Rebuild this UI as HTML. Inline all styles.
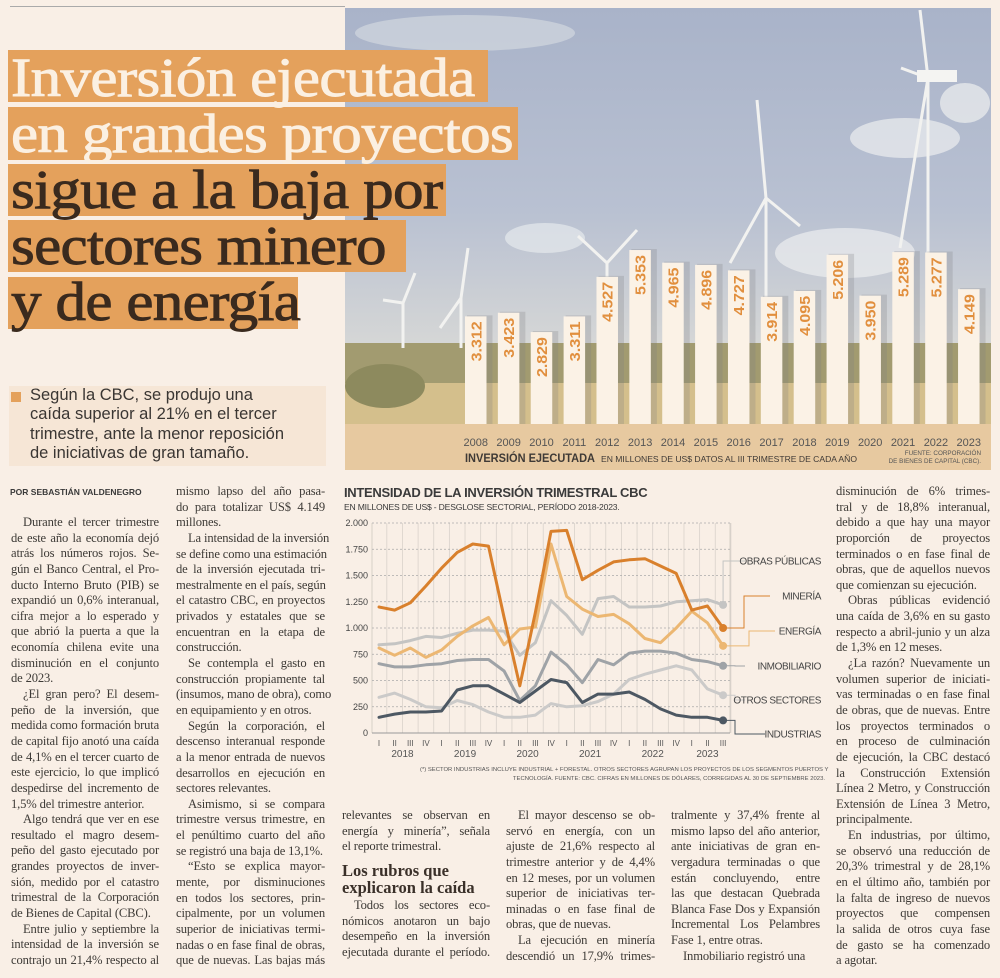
<!DOCTYPE html>
<html><head><meta charset="utf-8">
<style>
html,body{margin:0;padding:0}
body{width:1000px;height:978px;background:#f9efe6;position:relative;overflow:hidden;font-family:"Liberation Serif",serif;color:#3b3530}
.abs{position:absolute}
.t{position:absolute;white-space:nowrap;font-family:"Liberation Serif",serif}
.hbox{position:absolute;background:#e4a15c}
.htxt{position:absolute;font-family:"Liberation Serif",serif;font-size:55px;line-height:56px;white-space:nowrap;letter-spacing:-0.6px;-webkit-text-stroke:0.9px currentColor;transform:scaleX(1.11);transform-origin:0 0}
.col{position:absolute;font-size:12.6px;line-height:15.65px;color:#3d3a36;letter-spacing:-0.15px}
.col div{text-align:justify;text-align-last:justify;white-space:nowrap;height:15.65px;overflow:visible}
.col div.e{text-align-last:left}
.col div.i{text-indent:12px}
.sans{font-family:"Liberation Sans",sans-serif}
</style></head>
<body>

<div class="abs" style="left:10px;top:6px;width:335px;height:1px;background:#aaa"></div>

<svg class="abs" style="left:345px;top:8px" width="646" height="462">
  <defs>
    <linearGradient id="sky" x1="0" y1="0" x2="0" y2="1">
      <stop offset="0" stop-color="#a9b3c9"/><stop offset="0.6" stop-color="#b9c1d2"/><stop offset="1" stop-color="#d6d7d6"/>
    </linearGradient>
  </defs>
  <rect width="646" height="340" fill="url(#sky)"/>
  <ellipse cx="120" cy="25" rx="110" ry="18" fill="#d8dde3" opacity="0.6"/>
  <ellipse cx="560" cy="130" rx="55" ry="20" fill="#eceeef" opacity="0.7"/>
  <ellipse cx="500" cy="245" rx="70" ry="25" fill="#eceeef" opacity="0.7"/>
  <ellipse cx="200" cy="230" rx="40" ry="15" fill="#e6e9ec" opacity="0.7"/>
  <ellipse cx="620" cy="95" rx="25" ry="20" fill="#eef0f0" opacity="0.7"/>
  <rect y="335" width="646" height="45" fill="#a29b70"/>
  <rect y="375" width="646" height="41" fill="#d4bf8c"/>
  <ellipse cx="40" cy="378" rx="40" ry="22" fill="#8d8a5e"/>
  <g stroke="#f2f2f0" stroke-width="3" fill="none">
    <line x1="583" y1="70" x2="583" y2="340"/><line x1="583" y1="70" x2="575" y2="2"/><line x1="583" y1="70" x2="555" y2="240"/><line x1="583" y1="70" x2="556" y2="60"/>
    <line x1="421" y1="190" x2="421" y2="340"/><line x1="421" y1="190" x2="412" y2="92"/><line x1="421" y1="190" x2="385" y2="255"/><line x1="421" y1="190" x2="455" y2="218"/>
    <line x1="262" y1="255" x2="262" y2="340"/><line x1="262" y1="255" x2="233" y2="228"/><line x1="262" y1="255" x2="292" y2="222"/>
    <line x1="116" y1="290" x2="116" y2="340"/><line x1="116" y1="290" x2="123" y2="240"/><line x1="116" y1="290" x2="95" y2="320"/>
    <line x1="58" y1="295" x2="58" y2="340"/><line x1="58" y1="295" x2="70" y2="265"/><line x1="58" y1="295" x2="38" y2="292"/>
  </g>
  <rect x="572" y="62" width="40" height="12" fill="#f4f4f2"/>
  <rect y="416" width="646" height="46" fill="#e7c9a0"/>
</svg>

<div class="hbox" style="left:8px;top:50px;width:480px;height:52px"></div>
<div class="hbox" style="left:8px;top:107px;width:510px;height:53px"></div>
<div class="hbox" style="left:8px;top:164px;width:438px;height:52px"></div>
<div class="hbox" style="left:8px;top:220px;width:398px;height:52px"></div>
<div class="hbox" style="left:8px;top:277px;width:290px;height:52px"></div>
<div>
<div class="htxt" style="left:11px;top:50px;color:#fbf0e2">Inversión ejecutada</div>
<div class="htxt" style="left:11px;top:106px;color:#fbf0e2">en grandes proyectos</div>
<div class="htxt" style="left:11px;top:162px;color:#3a2a1e">sigue a la baja por</div>
<div class="htxt" style="left:11px;top:218px;color:#3a2a1e">sectores minero</div>
<div class="htxt" style="left:11px;top:274px;color:#3a2a1e">y de energía</div>
</div>

<div class="abs" style="left:9px;top:386px;width:317px;height:80px;background:#f6e6d6"></div>
<div class="abs" style="left:11px;top:392px;width:10px;height:10px;background:#e4a15c"></div>
<div class="abs sans" style="left:30px;top:386px;font-size:16.5px;line-height:19.3px;color:#3a3633;white-space:nowrap">Según la CBC, se produjo una<br>caída superior al 21% en el tercer<br>trimestre, ante la menor reposición<br>de iniciativas de gran tamaño.</div>

<svg class="abs" id="barchart" style="left:345px;top:8px" width="655" height="462"></svg>

<div class="t sans" style="left:344px;top:485px;font-size:13px;font-weight:bold;color:#3a3a3a;letter-spacing:-0.3px">INTENSIDAD DE LA INVERSIÓN TRIMESTRAL CBC</div>
<div class="t sans" style="left:344px;top:502px;font-size:8.6px;color:#3a3a3a;letter-spacing:-0.2px">EN MILLONES DE US$ - DESGLOSE SECTORIAL, PERÍODO 2018-2023.</div>
<svg class="abs" id="linechart" style="left:0;top:0" width="1000" height="978"></svg>
<div class="t sans" style="left:420px;top:766px;width:405px;text-align:right;font-size:5.9px;line-height:8.5px;color:#555">(*) SECTOR INDUSTRIAS INCLUYE INDUSTRIAL + FORESTAL. OTROS SECTORES AGRUPAN LOS PROYECTOS DE LOS SEGMENTOS PUERTOS Y<br>TECNOLOGÍA. FUENTE: CBC. CIFRAS EN MILLONES DE DÓLARES, CORREGIDAS AL 30 DE SEPTIEMBRE 2023.</div>

<div class="t sans" style="left:10px;top:487px;font-size:8.5px;font-weight:bold;color:#3a3a3a">POR SEBASTIÁN VALDENEGRO</div>

<div class="col" style="left:11px;top:515px;width:148px">
<div class="i">Durante el tercer trimestre</div>
<div>de este año la economía dejó</div>
<div>atrás los números rojos. Se-</div>
<div>gún el Banco Central, el Pro-</div>
<div>ducto Interno Bruto (PIB) se</div>
<div>expandió un 0,6% interanual,</div>
<div>cifra mejor a lo esperado y</div>
<div>que abrió la puerta a que la</div>
<div>economía chilena evite una</div>
<div>disminución en el conjunto</div>
<div class="e">de 2023.</div>
<div class="i">¿El gran pero? El desem-</div>
<div>peño de la inversión, que</div>
<div>medida como formación bruta</div>
<div>de capital fijo anotó una caída</div>
<div>de 4,1% en el tercer cuarto de</div>
<div>este ejercicio, lo que implicó</div>
<div>despedirse del incremento de</div>
<div class="e">1,5% del trimestre anterior.</div>
<div class="i">Algo tendrá que ver en ese</div>
<div>resultado el magro desem-</div>
<div>peño del gasto ejecutado por</div>
<div>grandes proyectos de inver-</div>
<div>sión, medido por el catastro</div>
<div>trimestral de la Corporación</div>
<div class="e">de Bienes de Capital (CBC).</div>
<div class="i">Entre julio y septiembre la</div>
<div>intensidad de la inversión se</div>
<div>contrajo un 21,4% respecto al</div>
</div>

<div class="col" style="left:176px;top:484px;width:149px">
<div>mismo lapso del año pasa-</div>
<div>do para totalizar US$ 4.149</div>
<div class="e">millones.</div>
<div class="i">La intensidad de la inversión</div>
<div>se define como una estimación</div>
<div>de la inversión ejecutada tri-</div>
<div>mestralmente en el país, según</div>
<div>el catastro CBC, en proyectos</div>
<div>privados y estatales que se</div>
<div>encuentran en la etapa de</div>
<div class="e">construcción.</div>
<div class="i">Se contempla el gasto en</div>
<div>construcción propiamente tal</div>
<div>(insumos, mano de obra), como</div>
<div class="e">en equipamiento y en otros.</div>
<div class="i">Según la corporación, el</div>
<div>descenso interanual responde</div>
<div>a la menor entrada de nuevos</div>
<div>desarrollos en ejecución en</div>
<div class="e">sectores relevantes.</div>
<div class="i">Asimismo, si se compara</div>
<div>trimestre versus trimestre, en</div>
<div>el penúltimo cuarto del año</div>
<div class="e">se registró una baja de 13,1%.</div>
<div class="i">“Esto se explica mayor-</div>
<div>mente, por disminuciones</div>
<div>en todos los sectores, prin-</div>
<div>cipalmente, por un volumen</div>
<div>superior de iniciativas termi-</div>
<div>nadas o en fase final de obras,</div>
<div>que de nuevas. Las bajas más</div>
</div>

<div class="col" style="left:342px;top:808px;width:148px">
<div>relevantes se observan en</div>
<div>energía y minería”, señala</div>
<div class="e">el reporte trimestral.</div>
</div>
<div class="t" style="left:342px;top:862px;font-size:16.5px;line-height:17px;font-weight:bold;color:#3a3029">Los rubros que<br>explicaron la caída</div>
<div class="col" style="left:342px;top:898px;width:148px">
<div class="i">Todos los sectores eco-</div>
<div>nómicos anotaron un bajo</div>
<div>desempeño en la inversión</div>
<div>ejecutada durante el período.</div>
</div>

<div class="col" style="left:506px;top:808px;width:149px">
<div class="i">El mayor descenso se ob-</div>
<div>servó en energía, con un</div>
<div>ajuste de 21,6% respecto al</div>
<div>trimestre anterior y de 4,4%</div>
<div>en 12 meses, por un volumen</div>
<div>superior de iniciativas ter-</div>
<div>minadas o en fase final de</div>
<div class="e">obras, que de nuevas.</div>
<div class="i">La ejecución en minería</div>
<div>descendió un 17,9% trimes-</div>
</div>

<div class="col" style="left:671px;top:808px;width:149px">
<div>tralmente y 37,4% frente al</div>
<div>mismo lapso del año anterior,</div>
<div>ante iniciativas de gran en-</div>
<div>vergadura terminadas o que</div>
<div>están concluyendo, entre</div>
<div>las que destacan Quebrada</div>
<div>Blanca Fase Dos y Expansión</div>
<div>Incremental Los Pelambres</div>
<div class="e">Fase 1, entre otras.</div>
<div class="i e">Inmobiliario registró una</div>
</div>

<div class="col" style="left:836px;top:484px;width:154px">
<div>disminución de 6% trimes-</div>
<div>tral y de 18,8% interanual,</div>
<div>debido a que hay una mayor</div>
<div>proporción de proyectos</div>
<div>terminados o en fase final de</div>
<div>obras, que de aquellos nuevos</div>
<div class="e">que comienzan su ejecución.</div>
<div class="i">Obras públicas evidenció</div>
<div>una caída de 3,6% en su gasto</div>
<div>respecto a abril-junio y un alza</div>
<div class="e">de 1,3% en 12 meses.</div>
<div class="i">¿La razón? Nuevamente un</div>
<div>volumen superior de iniciati-</div>
<div>vas terminadas o en fase final</div>
<div>de obras, que de nuevas. Entre</div>
<div>los proyectos terminados o</div>
<div>en proceso de culminación</div>
<div>de ejecución, la CBC destacó</div>
<div>la Construcción Extensión</div>
<div>Línea 2 Metro, y Construcción</div>
<div>Extensión de Línea 3 Metro,</div>
<div class="e">principalmente.</div>
<div class="i">En industrias, por último,</div>
<div>se observó una reducción de</div>
<div>20,3% trimestral y de 28,1%</div>
<div>en el último año, también por</div>
<div>la falta de ingreso de nuevos</div>
<div>proyectos que compensen</div>
<div>la salida de otros cuya fase</div>
<div>de gasto se ha comenzado</div>
<div class="e">a agotar.</div>
</div>

<script>
// ---------- bar chart data ----------
const barYears = ["2008","2009","2010","2011","2012","2013","2014","2015","2016","2017","2018","2019","2020","2021","2022","2023"];
const barValues = [3312,3423,2829,3311,4527,5353,4965,4896,4727,3914,4095,5206,3950,5289,5277,4149];
const barLabels = ["3.312","3.423","2.829","3.311","4.527","5.353","4.965","4.896","4.727","3.914","4.095","5.206","3.950","5.289","5.277","4.149"];

// ---------- line chart data ----------
const quarterLabels = ["I","II","III","IV","I","II","III","IV","I","II","III","IV","I","II","III","IV","I","II","III","IV","I","II","III"];
const yearLabels = ["2018","2019","2020","2021","2022","2023"];
const yTicks = [0,250,500,750,1000,1250,1500,1750,2000];
const yTickLabels = ["0","250","500","750","1.000","1.250","1.500","1.750","2.000"];
const mineria = [1200,1170,1240,1400,1570,1720,1800,1780,1100,450,1150,1920,1930,1460,1550,1630,1650,1660,1590,1520,1170,1210,1000];
const energia = [810,740,810,720,790,920,1020,1100,840,990,1010,1800,1300,1180,1110,1130,1040,900,860,1000,1160,1050,830];
const obrasPublicas = [840,850,880,920,910,950,980,980,970,740,860,1260,1120,940,1280,1300,1200,1200,1210,1250,1260,1270,1220];
const inmobiliario = [660,630,630,650,660,690,700,700,590,310,450,770,650,480,700,650,760,780,780,760,700,680,640];
const otrosSectores = [340,380,320,250,240,310,270,200,150,150,170,280,250,260,300,370,510,560,600,640,600,420,360];
const industrias = [150,180,200,200,210,410,450,450,370,290,400,510,480,290,370,370,390,320,230,170,150,150,120];

const NS = "http://www.w3.org/2000/svg";
function mk(parent, tag, attrs, text){
  const e = document.createElementNS(NS, tag);
  for (const k in attrs) e.setAttribute(k, attrs[k]);
  if (text !== undefined) e.textContent = text;
  parent.appendChild(e);
  return e;
}

(function(){
  const svg = document.getElementById('barchart');
  const base = 416, kpx = 0.0325;
  const x0 = 120, pitch = 32.87, bw = 21.5;
  const bx = i => x0 + i*pitch;
  const by = v => base - v*kpx;
  barValues.forEach((v,i)=>{
    const sh = mk(svg,'rect',{x:bx(i)+2,y:by(v)-1,width:bw+4,height:base-by(v)+1,fill:'#7a7c80',opacity:'0.25'});
    
    
    const r = mk(svg,'rect',{x:bx(i),y:by(v),width:bw,height:base-by(v),fill:'#fbf2e6'});
    
    
    const cx = bx(i)+bw/2, ty = by(v)+5;
    const t = mk(svg,'text',{x:0,y:0,transform:`translate(${cx+5.5},${ty}) rotate(-90)`,'text-anchor':'end','font-family':'Liberation Sans, sans-serif','font-size':'14.5','font-weight':'bold',fill:'#e18f3e','textLength':'40','lengthAdjust':'spacingAndGlyphs'}, barLabels[i]);
    
    
    const yl = mk(svg,'text',{x:cx,y:438,'text-anchor':'middle','font-family':'Liberation Sans, sans-serif','font-size':'11',fill:'#555'}, barYears[i]);
    
    
  });
  const c1 = mk(svg,'text',{x:120,y:454,'font-family':'Liberation Sans, sans-serif','font-size':'12',fill:'#3f3a36','font-weight':'bold',textLength:'130',lengthAdjust:'spacingAndGlyphs'},'INVERSIÓN EJECUTADA');
  
  
  const c2 = mk(svg,'text',{x:256,y:454,'font-family':'Liberation Sans, sans-serif','font-size':'8.5',fill:'#3f3a36',textLength:'256',lengthAdjust:'spacingAndGlyphs'},'EN MILLONES DE US$ DATOS AL III TRIMESTRE DE CADA AÑO');
  
  
  const s1 = mk(svg,'text',{x:636,y:447,'text-anchor':'end','font-family':'Liberation Sans, sans-serif','font-size':'6.3',fill:'#555'},'FUENTE: CORPORACIÓN');
  
  
  const s2 = mk(svg,'text',{x:636,y:455,'text-anchor':'end','font-family':'Liberation Sans, sans-serif','font-size':'6.3',fill:'#555'},'DE BIENES DE CAPITAL (CBC).');
  
  
})();

(function(){
  const svg = document.getElementById('linechart');
  const L = 372, R = 730, T = 523, B = 733;
  const xFirst = 379, pitch = 15.64;
  const X = i => xFirst + i*pitch;
  const Y = v => B - v/2000*(B-T);
  quarterLabels.forEach((q,i)=>{
    const ln = mk(svg,'line',{x1:X(i)+pitch/2,y1:T,x2:X(i)+pitch/2,y2:B,stroke:'#d9d2cb','stroke-width':'0.8'});
    
    
  });
  mk(svg,'line',{x1:L,y1:T,x2:L,y2:B,stroke:'#d0c8c0','stroke-width':'0.8'});
  mk(svg,'line',{x1:R,y1:T,x2:R,y2:B,stroke:'#d0c8c0','stroke-width':'0.8'});
  yTicks.forEach((v,i)=>{
    const g = mk(svg,'line',{x1:L,y1:Y(v),x2:R,y2:Y(v),stroke:v===0?'#999':'#aaa','stroke-width':v===0?'1':'0.7','stroke-dasharray':v===0?'':'2,2'});
    
    
    const t = mk(svg,'text',{x:368,y:Y(v)+3,'text-anchor':'end','font-family':'Liberation Sans, sans-serif','font-size':'9',fill:'#444'}, yTickLabels[i]);
    
    
  });
  quarterLabels.forEach((q,i)=>{
    const t = mk(svg,'text',{x:X(i),y:746,'text-anchor':'middle','font-family':'Liberation Sans, sans-serif','font-size':'8',fill:'#555'}, q);
    
    
  });
  yearLabels.forEach((y,i)=>{
    const first = i*4;
    const last = Math.min(first+3, quarterLabels.length-1);
    const t = mk(svg,'text',{x:(X(first)+X(last))/2,y:757,'text-anchor':'middle','font-family':'Liberation Sans, sans-serif','font-size':'10',fill:'#555'}, y);
    
    
  });
  const series = [
    {name:'otros-sectores',data:otrosSectores,color:'#cbcac9',label:'OTROS SECTORES',ly:700,path:'h'},
    {name:'obras-publicas',data:obrasPublicas,color:'#c4c4c3',label:'OBRAS PÚBLICAS',ly:561,path:'up'},
    {name:'inmobiliario',data:inmobiliario,color:'#9fa3a7',label:'INMOBILIARIO',ly:666,path:'h'},
    {name:'energia',data:energia,color:'#ecb772',label:'ENERGÍA',ly:631,path:'e'},
    {name:'industrias',data:industrias,color:'#4d5863',label:'INDUSTRIAS',ly:734,path:'i'},
    {name:'mineria',data:mineria,color:'#d9802c',label:'MINERÍA',ly:596,path:'m'}
  ];
  series.forEach(s=>{
    const pts = s.data.map((v,i)=>X(i).toFixed(1)+','+Y(v).toFixed(1)).join(' ');
    const pl = mk(svg,'polyline',{points:pts,fill:'none',stroke:s.color,'stroke-width':'3','stroke-linejoin':'round','stroke-linecap':'round'});
    
    
  });
  series.forEach(s=>{
    const n = s.data.length-1;
    const dx = X(n), dy = Y(s.data[n]);
    let d;
    if (s.path==='up') d = `M${dx},${dy} V${s.ly} H745`;
    else if (s.path==='m') d = `M${dx},${dy} H744 V${s.ly} H770`;
    else if (s.path==='e') d = `M${dx},${dy} H749 V${s.ly} H775`;
    else if (s.path==='i') d = `M${dx},${dy} H735 V${s.ly} H765`;
    else d = `M${dx},${dy} H735 V${s.ly} H745`;
    const ld = mk(svg,'path',{d:d,fill:'none',stroke:s.color,'stroke-width':'1'});
    
    
    const c = mk(svg,'circle',{cx:dx,cy:dy,r:4,fill:s.color});
    
    
    const t = mk(svg,'text',{x:821,y:s.ly+3.5,'text-anchor':'end','font-family':'Liberation Sans, sans-serif','font-size':'10',fill:'#444','letter-spacing':'-0.4'}, s.label);
    
    
  });
})();
</script>
</body></html>
